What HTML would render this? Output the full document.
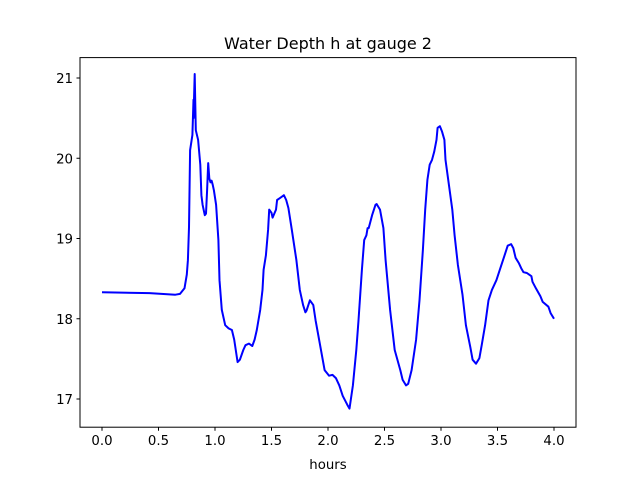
<!DOCTYPE html>
<html><head><meta charset="utf-8"><style>
body{margin:0;background:#fff}
svg text{font-family:"DejaVu Sans","Liberation Sans",sans-serif;fill:#000}
</style></head><body>
<svg width="640" height="480">
<rect x="0" y="0" width="640" height="480" fill="#fff"/>
<text x="328" y="49" text-anchor="middle" font-size="16">Water Depth h at gauge 2</text>
<g id="xt"></g>
<g id="yt"></g>
<path id="line" fill="none" stroke="#0000ff" stroke-width="2" stroke-linejoin="round"/>
<rect x="80" y="57.6" width="496" height="369.6" fill="none" stroke="#000" stroke-width="1"/>
<text x="328" y="469" text-anchor="middle" font-size="13.3">hours</text>
</svg>
<script>
const hours=[0,0.42,0.65,0.69,0.73,0.75,0.76,0.77,0.78,0.80,0.81,0.81,0.82,0.83,0.85,0.87,0.88,0.89,0.91,0.92,0.93,0.94,0.95,0.96,0.97,0.98,0.99,1.01,1.03,1.04,1.06,1.09,1.12,1.15,1.17,1.19,1.20,1.22,1.25,1.27,1.30,1.33,1.35,1.37,1.40,1.42,1.43,1.45,1.47,1.48,1.50,1.51,1.54,1.55,1.57,1.59,1.61,1.63,1.65,1.68,1.72,1.75,1.78,1.80,1.81,1.84,1.87,1.89,1.93,1.97,2.01,2.04,2.07,2.10,2.13,2.17,2.19,2.22,2.25,2.27,2.30,2.32,2.34,2.35,2.36,2.39,2.42,2.43,2.46,2.49,2.51,2.55,2.59,2.64,2.66,2.69,2.71,2.74,2.78,2.81,2.84,2.86,2.88,2.90,2.92,2.94,2.96,2.97,2.99,3.01,3.03,3.04,3.07,3.10,3.12,3.15,3.19,3.22,3.26,3.28,3.31,3.34,3.36,3.39,3.42,3.45,3.49,3.52,3.56,3.59,3.62,3.64,3.66,3.69,3.71,3.73,3.76,3.78,3.80,3.81,3.84,3.88,3.90,3.95,3.97,4.00];
const depth=[18.33,18.32,18.30,18.31,18.38,18.55,18.73,19.14,20.10,20.29,20.73,20.50,21.05,20.35,20.23,19.92,19.54,19.42,19.29,19.31,19.60,19.94,19.75,19.70,19.72,19.67,19.60,19.42,18.98,18.48,18.11,17.92,17.88,17.86,17.74,17.55,17.46,17.49,17.61,17.67,17.69,17.66,17.74,17.86,18.11,18.36,18.61,18.79,19.11,19.36,19.32,19.26,19.36,19.48,19.50,19.52,19.54,19.48,19.38,19.11,18.73,18.36,18.17,18.08,18.10,18.23,18.17,17.98,17.67,17.36,17.29,17.30,17.26,17.17,17.04,16.93,16.88,17.17,17.61,17.98,18.61,18.98,19.04,19.13,19.13,19.29,19.42,19.43,19.36,19.13,18.73,18.11,17.61,17.36,17.24,17.17,17.19,17.36,17.74,18.23,18.86,19.36,19.73,19.92,19.98,20.08,20.23,20.38,20.40,20.33,20.23,19.98,19.67,19.36,19.04,18.67,18.30,17.92,17.64,17.49,17.44,17.51,17.67,17.92,18.23,18.36,18.48,18.61,18.78,18.91,18.93,18.88,18.76,18.69,18.63,18.58,18.57,18.55,18.53,18.46,18.38,18.28,18.21,18.15,18.07,18.00];
const xTicks=[0,0.5,1,1.5,2,2.5,3,3.5,4];
const xTickLabels=["0.0","0.5","1.0","1.5","2.0","2.5","3.0","3.5","4.0"];
const yTicks=[17,18,19,20,21];
const yTickLabels=["17","18","19","20","21"];
const sx=t=>102+t*113;
const sy=v=>78+(21-v)*80.25;
const NS="http://www.w3.org/2000/svg";
const xg=document.getElementById('xt'), yg=document.getElementById('yt');
xTicks.forEach((t,i)=>{
  const l=document.createElementNS(NS,'line');
  l.setAttribute('x1',sx(t));l.setAttribute('x2',sx(t));l.setAttribute('y1',427.2);l.setAttribute('y2',430.7);l.setAttribute('stroke','#000');
  
  
  xg.appendChild(l);
  const tx=document.createElementNS(NS,'text');
  tx.setAttribute('x',sx(t));tx.setAttribute('y',445);tx.setAttribute('text-anchor','middle');tx.setAttribute('font-size','13.3');
  tx.textContent=xTickLabels[i];
  
  
  xg.appendChild(tx);
});
yTicks.forEach((v,i)=>{
  const l=document.createElementNS(NS,'line');
  l.setAttribute('x1',76.5);l.setAttribute('x2',80);l.setAttribute('y1',sy(v));l.setAttribute('y2',sy(v));l.setAttribute('stroke','#000');
  
  
  yg.appendChild(l);
  const tx=document.createElementNS(NS,'text');
  tx.setAttribute('x',73);tx.setAttribute('y',sy(v)+5);tx.setAttribute('text-anchor','end');tx.setAttribute('font-size','13.3');
  tx.textContent=yTickLabels[i];
  
  
  yg.appendChild(tx);
});
document.getElementById('line').setAttribute('d',hours.map((t,i)=>(i?'L':'M')+sx(t).toFixed(1)+' '+sy(depth[i]).toFixed(1)).join(' '));
</script>
</body></html>
